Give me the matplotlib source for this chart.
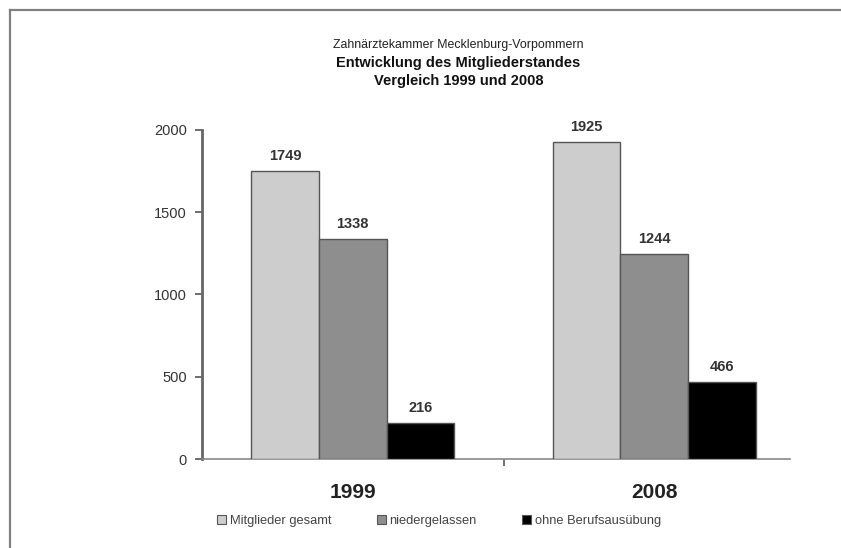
import numpy as np
import matplotlib
matplotlib.use("Agg")
import matplotlib.pyplot as plt
from matplotlib.lines import Line2D
from matplotlib.patches import Patch

years = ["1999", "2008"]
series_names = ["Mitglieder gesamt", "niedergelassen", "ohne Berufsausübung"]
mitglieder = [1749, 1925]
niedergelassen = [1338, 1244]
ohne_beruf = [216, 466]
yticks = [0, 500, 1000, 1500, 2000]

colors = ["#cdcdcd", "#8e8e8e", "#000000"]
series = [mitglieder, niedergelassen, ohne_beruf]

plt.rcParams["font.family"] = ["Liberation Sans", "DejaVu Sans"]

fig = plt.figure(figsize=(8.41, 5.48), dpi=100)
ax = fig.add_axes([202 / 841, 0.1624, 603 / 841, 0.6004])

x = np.arange(len(years))
w = 0.224
for i, (vals, col) in enumerate(zip(series, colors)):
    pos = x + (i - 1) * w
    ax.bar(pos, vals, width=w, color=col, edgecolor="#555555", linewidth=1.0, zorder=3)
    for p, v in zip(pos, vals):
        ax.text(p, v + 50, str(v), ha="center", va="bottom", fontsize=10.5,
                fontweight="bold", color="#333333")

ax.set_xlim(-0.5, 1.5)
ax.set_ylim(0, 2000)
ax.set_yticks(yticks)
ax.tick_params(axis="y", labelsize=10.5, colors="#555555", labelcolor="#333333",
               length=5, width=1.2, pad=6)
ax.set_xticks(x)
ax.set_xticklabels(years, fontsize=15, fontweight="bold", color="#222222")
ax.tick_params(axis="x", length=0, pad=17)
ax.set_xticks([0.5], minor=True)
ax.tick_params(axis="x", which="minor", length=5, width=1.2, colors="#555555")

for s in ["top", "right"]:
    ax.spines[s].set_visible(False)
ax.spines["left"].set_color("#666666")
ax.spines["left"].set_linewidth(2.0)
ax.spines["bottom"].set_color("#888888")
ax.spines["bottom"].set_linewidth(1.2)
ax.spines["bottom"].set_bounds(-0.5, 1.45)

fig.text(0.545, 0.918, "Zahnärztekammer Mecklenburg-Vorpommern", ha="center",
         va="center", fontsize=8.9, color="#222222")
fig.text(0.545, 0.885, "Entwicklung des Mitgliederstandes", ha="center",
         va="center", fontsize=10.5, fontweight="bold", color="#111111")
fig.text(0.545, 0.852, "Vergleich 1999 und 2008", ha="center",
         va="center", fontsize=10.5, fontweight="bold", color="#111111")

handles = [Patch(facecolor=c, edgecolor="#555555", linewidth=0.8) for c in colors]
fig.legend(handles, series_names, loc="center", bbox_to_anchor=(0.522, 0.049),
           ncol=3, frameon=False, fontsize=9.3, handlelength=0.7, handleheight=0.7,
           handletextpad=0.3, columnspacing=3.5, labelcolor="#444444")

# frame lines on left and top
fig.add_artist(Line2D([10 / 841, 10 / 841], [0, 1 - 10 / 548], transform=fig.transFigure,
                      color="#808080", linewidth=1.6))
fig.add_artist(Line2D([10 / 841, 1], [1 - 10 / 548, 1 - 10 / 548], transform=fig.transFigure,
                      color="#808080", linewidth=1.6))

fig.savefig("out.png", dpi=100)
